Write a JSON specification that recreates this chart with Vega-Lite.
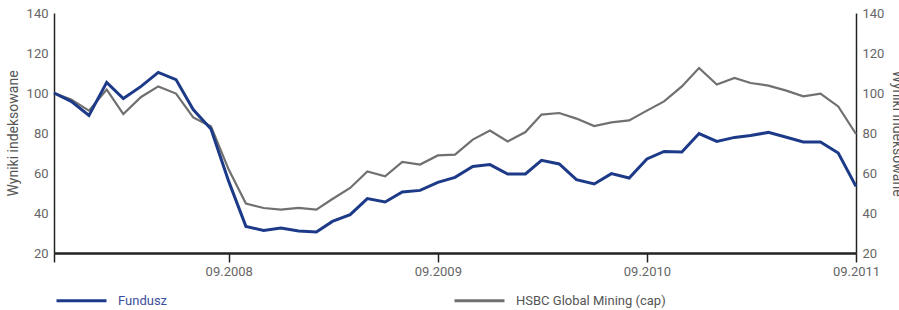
{
  "$schema": "https://vega.github.io/schema/vega-lite/v6.json",
  "width": 802,
  "height": 240,
  "autosize": "none",
  "padding": {"left": 54, "top": 13, "right": 43, "bottom": 57},
  "background": "white",
  "config": {
    "font": "Roboto",
    "view": {"stroke": null},
    "axis": {"labelFont": "Roboto", "titleFont": "Roboto", "labelColor": "#666666", "titleColor": "#555555", "labelFontSize": 13, "titleFontSize": 14, "titleFontWeight": "normal", "grid": false}
  },
  "data": {"values": [
    {"date": "2007-11-01", "series": "Fundusz", "value": 100},
    {"date": "2007-12-01", "series": "Fundusz", "value": 95.8},
    {"date": "2008-01-01", "series": "Fundusz", "value": 88.8},
    {"date": "2008-02-01", "series": "Fundusz", "value": 105.3},
    {"date": "2008-03-01", "series": "Fundusz", "value": 97.2},
    {"date": "2008-04-01", "series": "Fundusz", "value": 103.3},
    {"date": "2008-05-01", "series": "Fundusz", "value": 110.3},
    {"date": "2008-06-01", "series": "Fundusz", "value": 106.7},
    {"date": "2008-07-01", "series": "Fundusz", "value": 91.7},
    {"date": "2008-08-01", "series": "Fundusz", "value": 82},
    {"date": "2008-09-01", "series": "Fundusz", "value": 55.8},
    {"date": "2008-10-01", "series": "Fundusz", "value": 33.3},
    {"date": "2008-11-01", "series": "Fundusz", "value": 31.3},
    {"date": "2008-12-01", "series": "Fundusz", "value": 32.5},
    {"date": "2009-01-01", "series": "Fundusz", "value": 31},
    {"date": "2009-02-01", "series": "Fundusz", "value": 30.5},
    {"date": "2009-03-01", "series": "Fundusz", "value": 35.8},
    {"date": "2009-04-01", "series": "Fundusz", "value": 39.2},
    {"date": "2009-05-01", "series": "Fundusz", "value": 47.2},
    {"date": "2009-06-01", "series": "Fundusz", "value": 45.5},
    {"date": "2009-07-01", "series": "Fundusz", "value": 50.5},
    {"date": "2009-08-01", "series": "Fundusz", "value": 51.3},
    {"date": "2009-09-01", "series": "Fundusz", "value": 55.3},
    {"date": "2009-10-01", "series": "Fundusz", "value": 57.8},
    {"date": "2009-11-01", "series": "Fundusz", "value": 63.3},
    {"date": "2009-12-01", "series": "Fundusz", "value": 64.2},
    {"date": "2010-01-01", "series": "Fundusz", "value": 59.5},
    {"date": "2010-02-01", "series": "Fundusz", "value": 59.5},
    {"date": "2010-03-01", "series": "Fundusz", "value": 66.3},
    {"date": "2010-04-01", "series": "Fundusz", "value": 64.5},
    {"date": "2010-05-01", "series": "Fundusz", "value": 56.7},
    {"date": "2010-06-01", "series": "Fundusz", "value": 54.5},
    {"date": "2010-07-01", "series": "Fundusz", "value": 59.7},
    {"date": "2010-08-01", "series": "Fundusz", "value": 57.5},
    {"date": "2010-09-01", "series": "Fundusz", "value": 67},
    {"date": "2010-10-01", "series": "Fundusz", "value": 70.8},
    {"date": "2010-11-01", "series": "Fundusz", "value": 70.5},
    {"date": "2010-12-01", "series": "Fundusz", "value": 79.7},
    {"date": "2011-01-01", "series": "Fundusz", "value": 75.8},
    {"date": "2011-02-01", "series": "Fundusz", "value": 77.8},
    {"date": "2011-03-01", "series": "Fundusz", "value": 78.8},
    {"date": "2011-04-01", "series": "Fundusz", "value": 80.3},
    {"date": "2011-05-01", "series": "Fundusz", "value": 78},
    {"date": "2011-06-01", "series": "Fundusz", "value": 75.5},
    {"date": "2011-07-01", "series": "Fundusz", "value": 75.5},
    {"date": "2011-08-01", "series": "Fundusz", "value": 70},
    {"date": "2011-09-01", "series": "Fundusz", "value": 53.3},
    {"date": "2007-11-01", "series": "HSBC Global Mining (cap)", "value": 100},
    {"date": "2007-12-01", "series": "HSBC Global Mining (cap)", "value": 96.7},
    {"date": "2008-01-01", "series": "HSBC Global Mining (cap)", "value": 91.2},
    {"date": "2008-02-01", "series": "HSBC Global Mining (cap)", "value": 101.7},
    {"date": "2008-03-01", "series": "HSBC Global Mining (cap)", "value": 89.5},
    {"date": "2008-04-01", "series": "HSBC Global Mining (cap)", "value": 98},
    {"date": "2008-05-01", "series": "HSBC Global Mining (cap)", "value": 103.3},
    {"date": "2008-06-01", "series": "HSBC Global Mining (cap)", "value": 99.7},
    {"date": "2008-07-01", "series": "HSBC Global Mining (cap)", "value": 87.8},
    {"date": "2008-08-01", "series": "HSBC Global Mining (cap)", "value": 83.3},
    {"date": "2008-09-01", "series": "HSBC Global Mining (cap)", "value": 61.7},
    {"date": "2008-10-01", "series": "HSBC Global Mining (cap)", "value": 44.7},
    {"date": "2008-11-01", "series": "HSBC Global Mining (cap)", "value": 42.5},
    {"date": "2008-12-01", "series": "HSBC Global Mining (cap)", "value": 41.7},
    {"date": "2009-01-01", "series": "HSBC Global Mining (cap)", "value": 42.6},
    {"date": "2009-02-01", "series": "HSBC Global Mining (cap)", "value": 41.7},
    {"date": "2009-03-01", "series": "HSBC Global Mining (cap)", "value": 47},
    {"date": "2009-04-01", "series": "HSBC Global Mining (cap)", "value": 52.5},
    {"date": "2009-05-01", "series": "HSBC Global Mining (cap)", "value": 60.8},
    {"date": "2009-06-01", "series": "HSBC Global Mining (cap)", "value": 58.3},
    {"date": "2009-07-01", "series": "HSBC Global Mining (cap)", "value": 65.5},
    {"date": "2009-08-01", "series": "HSBC Global Mining (cap)", "value": 64.2},
    {"date": "2009-09-01", "series": "HSBC Global Mining (cap)", "value": 68.8},
    {"date": "2009-10-01", "series": "HSBC Global Mining (cap)", "value": 69.2},
    {"date": "2009-11-01", "series": "HSBC Global Mining (cap)", "value": 76.7},
    {"date": "2009-12-01", "series": "HSBC Global Mining (cap)", "value": 81.2},
    {"date": "2010-01-01", "series": "HSBC Global Mining (cap)", "value": 75.8},
    {"date": "2010-02-01", "series": "HSBC Global Mining (cap)", "value": 80.5},
    {"date": "2010-03-01", "series": "HSBC Global Mining (cap)", "value": 89.2},
    {"date": "2010-04-01", "series": "HSBC Global Mining (cap)", "value": 90},
    {"date": "2010-05-01", "series": "HSBC Global Mining (cap)", "value": 87.2},
    {"date": "2010-06-01", "series": "HSBC Global Mining (cap)", "value": 83.5},
    {"date": "2010-07-01", "series": "HSBC Global Mining (cap)", "value": 85.3},
    {"date": "2010-08-01", "series": "HSBC Global Mining (cap)", "value": 86.3},
    {"date": "2010-09-01", "series": "HSBC Global Mining (cap)", "value": 91.2},
    {"date": "2010-10-01", "series": "HSBC Global Mining (cap)", "value": 95.8},
    {"date": "2010-11-01", "series": "HSBC Global Mining (cap)", "value": 103.3},
    {"date": "2010-12-01", "series": "HSBC Global Mining (cap)", "value": 112.5},
    {"date": "2011-01-01", "series": "HSBC Global Mining (cap)", "value": 104.2},
    {"date": "2011-02-01", "series": "HSBC Global Mining (cap)", "value": 107.5},
    {"date": "2011-03-01", "series": "HSBC Global Mining (cap)", "value": 105},
    {"date": "2011-04-01", "series": "HSBC Global Mining (cap)", "value": 103.7},
    {"date": "2011-05-01", "series": "HSBC Global Mining (cap)", "value": 101.3},
    {"date": "2011-06-01", "series": "HSBC Global Mining (cap)", "value": 98.3},
    {"date": "2011-07-01", "series": "HSBC Global Mining (cap)", "value": 99.7},
    {"date": "2011-08-01", "series": "HSBC Global Mining (cap)", "value": 93.3},
    {"date": "2011-09-01", "series": "HSBC Global Mining (cap)", "value": 79.5}
  ]},
  "encoding": {
    "x": {
      "field": "date", "type": "temporal",
      "scale": {"type": "utc", "domain": [{"year": 2007, "month": 11, "date": 1, "utc": true}, {"year": 2011, "month": 9, "date": 1, "utc": true}]},
      "axis": {
        "title": null, "format": "%m.%Y",
        "values": [
          {"year": 2007, "month": 11, "date": 1, "utc": true},
          {"year": 2008, "month": 9, "date": 1, "utc": true},
          {"year": 2009, "month": 9, "date": 1, "utc": true},
          {"year": 2010, "month": 9, "date": 1, "utc": true},
          {"year": 2011, "month": 9, "date": 1, "utc": true}
        ],
        "labelExpr": "utcmonth(datum.value) == 8 ? datum.label : ''",
        "domainColor": "#222222", "domainWidth": 2.5,
        "tickColor": "#222222", "tickWidth": 1.5, "tickSize": 9,
        "labelPadding": 3, "labelFlush": false, "labelOverlap": false
      }
    },
    "color": {
      "field": "series", "type": "nominal",
      "scale": {"domain": ["Fundusz", "HSBC Global Mining (cap)"], "range": ["#1c3a87", "#707070"]},
      "legend": {
        "title": null, "orient": "none", "legendX": 1, "legendY": 261,
        "direction": "horizontal", "symbolType": "stroke", "symbolSize": 2500,
        "symbolStrokeWidth": 3, "labelOffset": 10, "columnPadding": 280,
        "labelFont": "Roboto", "labelFontSize": 13,
        "encode": {"labels": {"update": {"fill": {"signal": "datum.label === 'Fundusz' ? '#3b4d9b' : '#555555'"}}}}
      }
    }
  },
  "layer": [
    {
      "transform": [{"filter": "datum.series === 'HSBC Global Mining (cap)'"}],
      "mark": {"type": "line", "strokeWidth": 2.2},
      "encoding": {
        "y": {
          "field": "value", "type": "quantitative",
          "scale": {"domain": [20, 140], "nice": false, "zero": false},
          "axis": {"orient": "right", "title": "Wyniki indeksowane", "values": [20, 40, 60, 80, 100, 120, 140], "ticks": false, "domainColor": "#222222", "domainWidth": 1.5, "labelPadding": 6, "titlePadding": 6}
        }
      }
    },
    {
      "transform": [{"filter": "datum.series === 'Fundusz'"}],
      "mark": {"type": "line", "strokeWidth": 3},
      "encoding": {
        "y": {
          "field": "value", "type": "quantitative",
          "scale": {"domain": [20, 140], "nice": false, "zero": false},
          "axis": {"orient": "left", "title": "Wyniki indeksowane", "values": [20, 40, 60, 80, 100, 120, 140], "ticks": false, "domainColor": "#222222", "domainWidth": 1.5, "labelPadding": 6, "titlePadding": 6}
        }
      }
    }
  ],
  "resolve": {"scale": {"y": "independent"}}
}
